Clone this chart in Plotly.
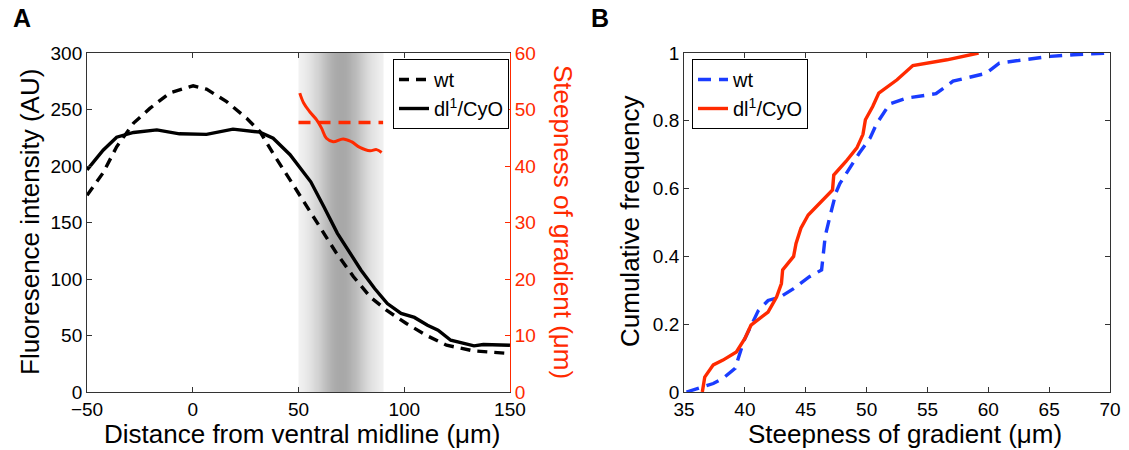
import plotly.graph_objects as go
import math

# ---------------- Panel A data ----------------
wt_x = [-50, -42.4, -36, -28, -20.3, -10.9, 0.2, 6.5, 16, 25.6, 31.7, 38, 46, 54, 60.4, 68, 76, 84, 91.6, 101, 110.6, 120, 132.6, 150]
wt_y = [174, 194, 217, 238, 251, 264.6, 271, 268, 257, 242, 230.6, 211, 187.7, 164, 146, 122.7, 102, 84, 72.4, 60.6, 50, 41.4, 36.4, 34]

dl_x = [-50, -42.4, -36, -28, -17, -6.3, 6.5, 19, 31.7, 38, 46, 55.8, 62, 68.4, 79.5, 86, 92, 98.5, 104.8, 111, 116, 122, 133, 137.4, 150]
dl_y = [196.6, 214, 225.5, 229.7, 232, 228.5, 228, 232.6, 230, 224.6, 210, 186, 164, 140.4, 108, 91.6, 78.3, 69.5, 66, 59, 54.7, 45.8, 40.8, 42, 41.4]

steep_x = [50.6, 52.5, 55.3, 58.5, 60.9, 63.2, 66.4, 71.1, 75, 79, 83.8, 86.9, 89.3]
steep_y = [52.9, 51.1, 49.6, 48.2, 46.7, 44.9, 44.3, 44.8, 44.3, 43.3, 42.7, 42.9, 42.4]

wt_steep_x = [50, 90]
wt_steep_y = [47.7, 47.7]

band_lo, band_center, band_hi = 50, 70, 90

# ---------------- Panel B data ----------------
cdf_wt_x = [35.2, 36.4, 37.4, 38.2, 39.2, 39.9, 41.1, 41.9, 42.9, 44, 45.3, 46.3, 46.6, 47, 47.5, 47.8, 48.5, 49.4, 50.3, 50.8, 51.9, 53.3, 55.7, 57.1, 59.8, 60.9, 62.9, 65.1, 67, 70]
cdf_wt_y = [0, 0.015, 0.025, 0.04, 0.07, 0.15, 0.24, 0.27, 0.28, 0.305, 0.34, 0.36, 0.46, 0.52, 0.59, 0.615, 0.655, 0.705, 0.75, 0.79, 0.85, 0.867, 0.88, 0.917, 0.94, 0.97, 0.98, 0.99, 0.995, 1.0]

cdf_dl_x = [36.5, 36.7, 37.4, 38.2, 39.3, 40, 40.5, 41.2, 41.9, 42.6, 43, 43.1, 43.6, 44, 44.2, 44.6, 45.2, 46.3, 47.2, 47.3, 48.3, 49.2, 49.7, 49.9, 50.5, 51, 52.5, 53.8, 56.6, 59.2]
cdf_dl_y = [0, 0.044, 0.08, 0.094, 0.118, 0.158, 0.197, 0.217, 0.236, 0.28, 0.32, 0.36, 0.384, 0.4, 0.438, 0.483, 0.522, 0.562, 0.596, 0.64, 0.68, 0.72, 0.76, 0.803, 0.842, 0.882, 0.921, 0.963, 0.98, 1.0]

RED = "#ff2a00"
BLUE = "#1a3cff"
FONT = "Liberation Sans, Arial, sans-serif"
W, H = 1129, 450

def px_x(p):
    return p / W

def px_y(p):
    return 1 - p / H

fig = go.Figure()

# Gray gradient band (drawn first, beneath the curves)
n = 80
step = (band_hi - band_lo) / n
bx = [band_lo + (i + 0.5) * step for i in range(n)]
bz = []
for xm in bx:
    g = math.exp(-0.5 * ((xm - band_center) / 9.0) ** 2)
    bz.append(248 - 80 * g)
fig.add_trace(go.Heatmap(x=bx, y=[0, 300], z=[bz, bz], zmin=0, zmax=255,
                         colorscale=[[0, "rgb(0,0,0)"], [1, "rgb(255,255,255)"]],
                         showscale=False, hoverinfo="skip", zsmooth="best",
                         xaxis="x", yaxis="y"))

# Panel A traces
fig.add_trace(go.Scatter(x=wt_x, y=wt_y, mode="lines", name="wt",
                         line=dict(color="black", width=3.4, dash="10px,7px"),
                         xaxis="x", yaxis="y", legend="legend"))
fig.add_trace(go.Scatter(x=dl_x, y=dl_y, mode="lines", name="dl<sup>1</sup>/CyO",
                         line=dict(color="black", width=3.4),
                         xaxis="x", yaxis="y", legend="legend"))
fig.add_trace(go.Scatter(x=wt_steep_x, y=wt_steep_y, mode="lines", showlegend=False,
                         line=dict(color=RED, width=3.4, dash="12px,8px"),
                         xaxis="x", yaxis="y2"))
fig.add_trace(go.Scatter(x=steep_x, y=steep_y, mode="lines", showlegend=False,
                         line=dict(color=RED, width=3.0, shape="spline"),
                         xaxis="x", yaxis="y2"))

# Panel B traces
fig.add_trace(go.Scatter(x=cdf_wt_x, y=cdf_wt_y, mode="lines", name="wt",
                         line=dict(color=BLUE, width=3.4, dash="13px,8px"),
                         xaxis="x3", yaxis="y3", legend="legend2"))
fig.add_trace(go.Scatter(x=cdf_dl_x, y=cdf_dl_y, mode="lines", name="dl<sup>1</sup>/CyO",
                         line=dict(color=RED, width=3.4),
                         xaxis="x3", yaxis="y3", legend="legend2"))

tickfont = dict(family=FONT, size=19, color="black")
axcommon = dict(showgrid=False, zeroline=False, showline=True, linecolor="#333333",
                linewidth=1, ticks="inside", ticklen=5, tickcolor="#333333", tickfont=tickfont)

axA_x = [0.0771, 0.4517]
axB_x = [0.6059, 0.9832]
ydom = [0.1289, 0.8822]

fig.update_layout(
    width=W, height=H,
    margin=dict(l=0, r=0, t=0, b=0, autoexpand=False),
    paper_bgcolor="white", plot_bgcolor="white",
    font=dict(family=FONT, color="black"),
    xaxis=dict(domain=axA_x, range=[-50, 150], tickvals=[-50, 0, 50, 100, 150],
               mirror="ticks", anchor="y", **axcommon),
    yaxis=dict(domain=ydom, range=[0, 300], tickvals=[0, 50, 100, 150, 200, 250, 300],
               anchor="x", **axcommon),
    yaxis2=dict(overlaying="y", side="right", anchor="x", range=[0, 60],
                tickvals=[0, 10, 20, 30, 40, 50, 60], showgrid=False, zeroline=False,
                showline=True, linecolor=RED, linewidth=1, ticks="inside", ticklen=5,
                tickcolor=RED, tickfont=dict(family=FONT, size=19, color=RED)),
    xaxis3=dict(domain=axB_x, range=[35, 70], tickvals=[35, 40, 45, 50, 55, 60, 65, 70],
                mirror="ticks", anchor="y3", **axcommon),
    yaxis3=dict(domain=ydom, range=[0, 1], tickvals=[0, 0.2, 0.4, 0.6, 0.8, 1],
                mirror="ticks", anchor="x3", **axcommon),
    legend=dict(x=px_x(393), y=px_y(59), xanchor="left", yanchor="top",
                bgcolor="white", bordercolor="black", borderwidth=1,
                font=dict(family=FONT, size=20, color="black"),
                tracegroupgap=0, itemwidth=30),
    legend2=dict(x=px_x(692), y=px_y(59), xanchor="left", yanchor="top",
                 bgcolor="white", bordercolor="black", borderwidth=1,
                 font=dict(family=FONT, size=20, color="black"),
                 tracegroupgap=0, itemwidth=30),
)

title_font = dict(family=FONT, size=26, color="black")
ann = [
    dict(text="Distance from ventral midline (μm)", x=px_x(302), y=px_y(434),
         xref="paper", yref="paper", showarrow=False, font=title_font,
         xanchor="center", yanchor="middle"),
    dict(text="Fluoresence intensity (AU)", x=px_x(30), y=px_y(222),
         xref="paper", yref="paper", showarrow=False, font=title_font, textangle=-90,
         xanchor="center", yanchor="middle"),
    dict(text="Steepness of gradient (μm)", x=px_x(563), y=px_y(222),
         xref="paper", yref="paper", showarrow=False,
         font=dict(family=FONT, size=26, color=RED), textangle=90,
         xanchor="center", yanchor="middle"),
    dict(text="Steepness of gradient (μm)", x=px_x(905), y=px_y(434),
         xref="paper", yref="paper", showarrow=False, font=title_font,
         xanchor="center", yanchor="middle"),
    dict(text="Cumulative frequency", x=px_x(630), y=px_y(222),
         xref="paper", yref="paper", showarrow=False, font=title_font, textangle=-90,
         xanchor="center", yanchor="middle"),
    dict(text="<b>A</b>", x=px_x(22), y=px_y(18), xref="paper", yref="paper",
         showarrow=False, font=dict(family=FONT, size=25, color="black"),
         xanchor="center", yanchor="middle"),
    dict(text="<b>B</b>", x=px_x(600), y=px_y(18), xref="paper", yref="paper",
         showarrow=False, font=dict(family=FONT, size=25, color="black"),
         xanchor="center", yanchor="middle"),
]
fig.update_layout(annotations=ann)

fig.write_html("out.html")
